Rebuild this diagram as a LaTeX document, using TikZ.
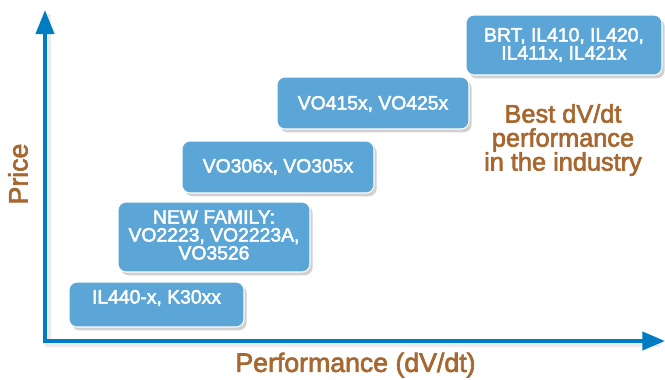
\documentclass[tikz,border=0pt]{standalone}
\usepackage{fontspec}
\setmainfont{Liberation Sans}[BoldFont={Liberation Sans}, BoldFeatures={FakeBold=2.5}]
\usetikzlibrary{arrows.meta,shadows}
\definecolor{axisblue}{RGB}{0,124,194}
\definecolor{boxblue}{RGB}{92,165,215}
\definecolor{brown}{RGB}{166,104,48}
\tikzset{
  pbox/.style={draw=white, line width=0.8pt, fill=boxblue, rounded corners=6pt, inner sep=0pt,
    drop shadow={shadow xshift=2pt, shadow yshift=-2.5pt, opacity=0.18, fill=black}},
  btext/.style={text=white, align=center, font=\fontsize{14.5}{13.5}\selectfont\bfseries, inner sep=0pt},
  axlabel/.style={text=brown, font=\fontsize{20}{22}\selectfont\bfseries, inner sep=0pt},
  axis/.style={draw=axisblue, line width=3pt, line join=miter},
}
\begin{document}
\begin{tikzpicture}[x=0.75pt, y=-0.75pt]
\useasboundingbox (0,0) rectangle (665,379);
% axis shadow
\draw[line width=4pt, black, opacity=0.08] (48,14) -- (48,344) -- (660,344);
\coordinate (top) at (45,10);
\coordinate (corner) at (45,341);
\coordinate (right) at (665,341);
\draw[axis, {Triangle[width=13.5pt,length=18pt]}-{Triangle[width=13.5pt,length=17pt]}] (top) -- (corner) -- (right);

\node[pbox, minimum width=131.25pt, minimum height=33.75pt] (b1) at (156.5,304.5) {};
\node[btext] (t1) at (156.5,298) {IL440-x, K30xx};

\node[pbox, minimum width=144pt, minimum height=52.5pt] (b2) at (214,237) {};
\node[btext] (t2) at (214,235) {NEW FAMILY:\\VO2223, VO2223A,\\VO3526};

\node[pbox, minimum width=144pt, minimum height=39pt] (b3) at (278,167) {};
\node[btext] (t3) at (278,167) {VO306x, VO305x};

\node[pbox, minimum width=144pt, minimum height=39pt] (b4) at (373,103) {};
\node[btext] (t4) at (373,104) {VO415x, VO425x};

\node[pbox, minimum width=147pt, minimum height=45pt] (b5) at (564,45) {};
\node[btext] (t5) at (564,45) {BRT, IL410, IL420,\\IL411x, IL421x};

\node[text=brown, align=center, inner sep=0pt, font=\fontsize{19}{18}\selectfont\bfseries] (best) at (563,140) {Best dV/dt\\performance\\in the industry};

\node[axlabel, rotate=90] (price) at (18,174) {Price};
\node[axlabel] (perf) at (355.5,365) {Performance (dV/dt)};
\end{tikzpicture}
\end{document}
